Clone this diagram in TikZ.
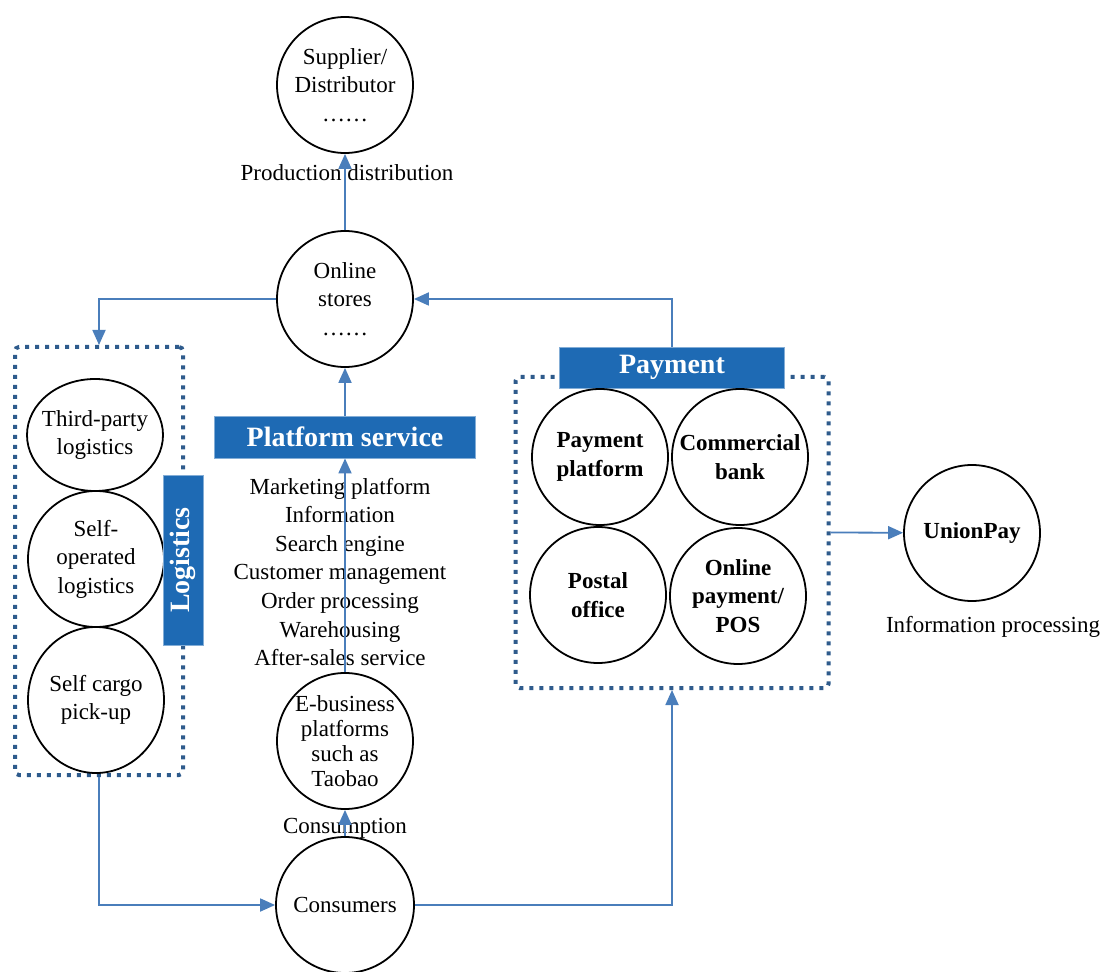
\documentclass[tikz,border=0pt]{standalone}
\usepackage{fontspec}
\setmainfont{Liberation Serif}
\usepackage{xcolor}
\usepackage{tikz}
\usetikzlibrary{shapes.geometric,arrows.meta,positioning,calc}
\definecolor{flow}{RGB}{74,126,187}
\definecolor{barblue}{RGB}{30,106,180}
\definecolor{frameblue}{RGB}{46,91,140}

\begin{document}
\begin{tikzpicture}[x=0.5pt,y=-0.5pt,
  font=\fontsize{11.5}{14.3}\selectfont,
  bubble/.style={ellipse,draw,line width=0.9pt,inner sep=-25pt,
    minimum width=68pt,minimum height=68pt,align=center},
  boldtxt/.style={font=\fontsize{11.5}{14.3}\selectfont\bfseries},
  headbar/.style={fill=barblue,draw=barblue!55,text=white,inner sep=0pt,
    font=\fontsize{14}{16}\selectfont\bfseries},
  groupbox/.style={draw=frameblue,line width=2pt,dash pattern=on 2pt off 3pt,
    rounded corners=2pt,inner sep=0pt},
  arr/.style={-{Triangle[length=7.5pt,width=6.5pt]},line width=0.9pt,flow},
]
  \useasboundingbox (0,0) rectangle (1112,972);
  % middle column
  \node[bubble] (supplier) at (345,85) {Supplier/\\Distributor\\……};
  \node (prod) at (347,173) {Production distribution};
  \node[bubble] (online) at (345,299) {Online\\stores\\……};
  \node[headbar,minimum width=130.5pt,minimum height=21pt] (platform) at (345,437) {Platform service};
  \node[align=center] (services) at (340,572) {Marketing platform\\Information\\Search engine\\Customer management\\Order processing\\Warehousing\\After-sales service};
  \node[bubble,font=\fontsize{11.5}{12.4}\selectfont] (ebiz) at (345,741) {E-business\\platforms\\such as\\Taobao};
  \node (consume) at (345,828) {Consumption};
  \node[bubble,minimum width=69pt] (consumers) at (345,905) {Consumers};
  % logistics group
  \node[groupbox,minimum width=84pt,minimum height=214pt] (logistics) at (99,561) {};
  \node[bubble,minimum height=56pt] (third) at (95,435) {Third-party\\logistics};
  \node[bubble] (selfop) at (96,559) {Self-\\operated\\logistics};
  \node[bubble,minimum height=73pt] (pickup) at (96,700) {Self cargo\\pick-up};
  \node[headbar,rotate=90,minimum width=85pt,minimum height=20pt] (loglabel) at (183,560) {Logistics};
  % payment group
  \node[groupbox,minimum width=156.5pt,minimum height=155.5pt] (payment) at (672,532.5) {};
  \node[headbar,minimum width=112.5pt,minimum height=20.5pt] (paylabel) at (672,367.5) {Payment};
  \node[bubble,boldtxt] (payplat) at (600,457) {Payment\\platform};
  \node[bubble,boldtxt] (bank) at (740,457) {Commercial\\bank};
  \node[bubble,boldtxt] (postal) at (598,595) {Postal\\office};
  \node[bubble,boldtxt] (pos) at (738,596) {Online\\payment/\\POS};
  \node[bubble,boldtxt] (unionpay) at (972,533) {UnionPay};
  \node (infoproc) at (993,627) {Information processing};
  % connectors
  \draw[arr] (online) -- (supplier);
  \draw[arr] (platform) -- (online);
  \draw[arr] (ebiz) -- (platform);
  \draw[arr] (consumers) -- (ebiz);
  \draw[arr] (online.west) -| (logistics.north);
  \draw[arr] (logistics.south) |- (consumers.west);
  \draw[arr] (consumers.east) -| (payment.south);
  \draw[arr] (paylabel.north) |- (online.east);
  \draw[arr] (payment.east) -- (unionpay);
\end{tikzpicture}
\end{document}
